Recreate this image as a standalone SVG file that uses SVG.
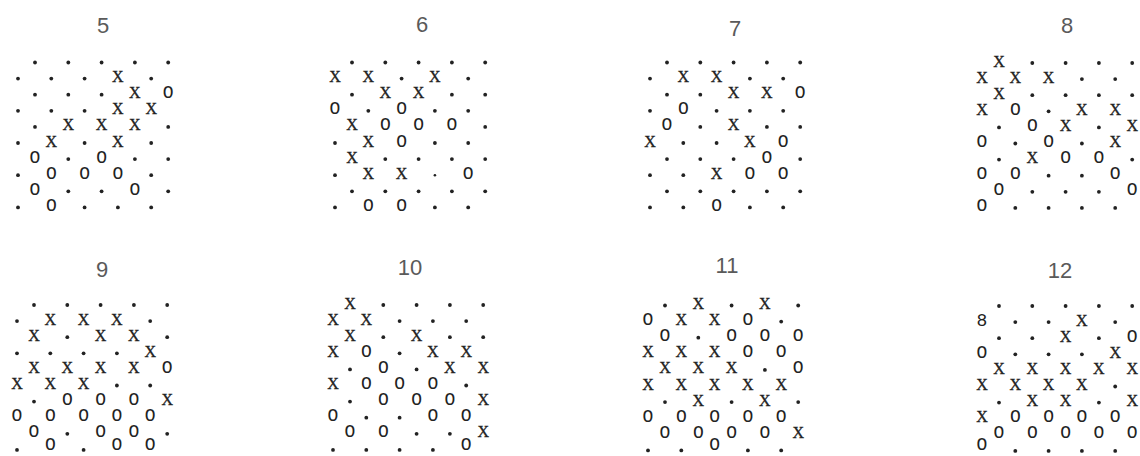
<svg xmlns="http://www.w3.org/2000/svg" width="1140" height="456" viewBox="0 0 1140 456">
<style>
.lbl{font-family:"Liberation Sans",Arial,sans-serif;font-size:22px;fill:#5a5a5a;text-anchor:middle}
.x{font-family:"Liberation Serif","Times New Roman",serif;font-size:16px;fill:#222;stroke:#222;stroke-width:0.35;text-anchor:middle}
.o{font-family:"Liberation Mono","Courier New",monospace;font-size:18px;fill:#222;text-anchor:middle}
circle{fill:#222}
</style>
<rect width="1140" height="456" fill="#fff"/>
<g id="grid-5">
<text class="lbl" x="103" y="33">5</text>
<g transform="translate(18,62.5)">
<circle cx="17" cy="0" r="1.9"/><circle cx="50.3" cy="0" r="1.9"/><circle cx="83.6" cy="0" r="1.9"/><circle cx="116.9" cy="0" r="1.9"/><circle cx="150.2" cy="0" r="1.9"/>
<circle cx="0" cy="16.1" r="1.9"/><circle cx="33.3" cy="16.1" r="1.9"/><circle cx="66.6" cy="16.1" r="1.9"/><text class="x" x="99.9" y="19.6">X</text><circle cx="133.2" cy="16.1" r="1.9"/>
<circle cx="17" cy="32.2" r="1.9"/><circle cx="50.3" cy="32.2" r="1.9"/><circle cx="83.6" cy="32.2" r="1.9"/><text class="x" x="116.9" y="35.7">X</text><text class="o" x="150.2" y="35.7">O</text>
<circle cx="0" cy="48.3" r="1.9"/><circle cx="33.3" cy="48.3" r="1.9"/><circle cx="66.6" cy="48.3" r="1.9"/><text class="x" x="99.9" y="51.8">X</text><text class="x" x="133.2" y="51.8">X</text>
<circle cx="17" cy="64.4" r="1.9"/><text class="x" x="50.3" y="67.9">X</text><text class="x" x="83.6" y="67.9">X</text><text class="x" x="116.9" y="67.9">X</text><circle cx="150.2" cy="64.4" r="1.9"/>
<circle cx="0" cy="80.5" r="1.9"/><text class="x" x="33.3" y="84">X</text><circle cx="66.6" cy="80.5" r="1.9"/><text class="x" x="99.9" y="84">X</text><circle cx="133.2" cy="80.5" r="1.9"/>
<text class="o" x="17" y="100.1">O</text><circle cx="50.3" cy="96.6" r="1.9"/><text class="o" x="83.6" y="100.1">O</text><circle cx="116.9" cy="96.6" r="1.9"/><circle cx="150.2" cy="96.6" r="1.9"/>
<circle cx="0" cy="112.7" r="1.9"/><text class="o" x="33.3" y="116.2">O</text><text class="o" x="66.6" y="116.2">O</text><text class="o" x="99.9" y="116.2">O</text><circle cx="133.2" cy="112.7" r="1.9"/>
<text class="o" x="17" y="132.3">O</text><circle cx="50.3" cy="128.8" r="1.9"/><circle cx="83.6" cy="128.8" r="1.9"/><text class="o" x="116.9" y="132.3">O</text><circle cx="150.2" cy="128.8" r="1.9"/>
<circle cx="0" cy="144.9" r="1.9"/><text class="o" x="33.3" y="148.4">O</text><circle cx="66.6" cy="144.9" r="1.9"/><circle cx="99.9" cy="144.9" r="1.9"/><circle cx="133.2" cy="144.9" r="1.9"/>
</g>
</g>
<g id="grid-6">
<text class="lbl" x="422" y="32">6</text>
<g transform="translate(335,62.5)">
<circle cx="17" cy="0" r="1.9"/><circle cx="50.3" cy="0" r="1.9"/><circle cx="83.6" cy="0" r="1.9"/><circle cx="116.9" cy="0" r="1.9"/><circle cx="150.2" cy="0" r="1.9"/>
<text class="x" x="0" y="19.6">X</text><text class="x" x="33.3" y="19.6">X</text><circle cx="66.6" cy="16.1" r="1.9"/><text class="x" x="99.9" y="19.6">X</text><circle cx="133.2" cy="16.1" r="1.9"/>
<circle cx="17" cy="32.2" r="1.9"/><text class="x" x="50.3" y="35.7">X</text><text class="x" x="83.6" y="35.7">X</text><circle cx="116.9" cy="32.2" r="1.9"/><circle cx="150.2" cy="32.2" r="1.9"/>
<text class="o" x="0" y="51.8">O</text><circle cx="33.3" cy="48.3" r="1.9"/><text class="o" x="66.6" y="51.8">O</text><circle cx="99.9" cy="48.3" r="1.9"/><circle cx="133.2" cy="48.3" r="1.9"/>
<text class="x" x="17" y="67.9">X</text><text class="o" x="50.3" y="67.9">O</text><text class="o" x="83.6" y="67.9">O</text><text class="o" x="116.9" y="67.9">O</text><circle cx="150.2" cy="64.4" r="1.9"/>
<circle cx="0" cy="80.5" r="1.9"/><text class="x" x="33.3" y="84">X</text><text class="o" x="66.6" y="84">O</text><circle cx="99.9" cy="80.5" r="1.9"/><circle cx="133.2" cy="80.5" r="1.9"/>
<text class="x" x="17" y="100.1">X</text><circle cx="50.3" cy="96.6" r="1.9"/><circle cx="83.6" cy="96.6" r="1.9"/><circle cx="116.9" cy="96.6" r="1.9"/><circle cx="150.2" cy="96.6" r="1.9"/>
<circle cx="0" cy="112.7" r="1.9"/><text class="x" x="33.3" y="116.2">X</text><text class="x" x="66.6" y="116.2">X</text><circle cx="99.9" cy="112.7" r="1.3"/><text class="o" x="133.2" y="116.2">O</text>
<circle cx="17" cy="128.8" r="1.9"/><circle cx="50.3" cy="128.8" r="1.9"/><circle cx="83.6" cy="128.8" r="1.9"/><circle cx="116.9" cy="128.8" r="1.9"/><circle cx="150.2" cy="128.8" r="1.9"/>
<circle cx="0" cy="144.9" r="1.9"/><text class="o" x="33.3" y="148.4">O</text><text class="o" x="66.6" y="148.4">O</text><circle cx="99.9" cy="144.9" r="1.9"/><circle cx="133.2" cy="144.9" r="1.9"/>
</g>
</g>
<g id="grid-7">
<text class="lbl" x="735" y="36">7</text>
<g transform="translate(650,62.5)">
<circle cx="17" cy="0" r="1.9"/><circle cx="50.3" cy="0" r="1.9"/><circle cx="83.6" cy="0" r="1.9"/><circle cx="116.9" cy="0" r="1.9"/><circle cx="150.2" cy="0" r="1.9"/>
<circle cx="0" cy="16.1" r="1.9"/><text class="x" x="33.3" y="19.6">X</text><text class="x" x="66.6" y="19.6">X</text><circle cx="99.9" cy="16.1" r="1.9"/><circle cx="133.2" cy="16.1" r="1.9"/>
<circle cx="17" cy="32.2" r="1.9"/><circle cx="50.3" cy="32.2" r="1.9"/><text class="x" x="83.6" y="35.7">X</text><text class="x" x="116.9" y="35.7">X</text><text class="o" x="150.2" y="35.7">O</text>
<circle cx="0" cy="48.3" r="1.9"/><text class="o" x="33.3" y="51.8">O</text><circle cx="66.6" cy="48.3" r="1.9"/><circle cx="99.9" cy="48.3" r="1.9"/><circle cx="133.2" cy="48.3" r="1.9"/>
<text class="o" x="17" y="67.9">O</text><circle cx="50.3" cy="64.4" r="1.9"/><text class="x" x="83.6" y="67.9">X</text><circle cx="116.9" cy="64.4" r="1.9"/><circle cx="150.2" cy="64.4" r="1.9"/>
<text class="x" x="0" y="84">X</text><circle cx="33.3" cy="80.5" r="1.9"/><circle cx="66.6" cy="80.5" r="1.9"/><text class="x" x="99.9" y="84">X</text><text class="o" x="133.2" y="84">O</text>
<circle cx="17" cy="96.6" r="1.9"/><circle cx="50.3" cy="96.6" r="1.9"/><circle cx="83.6" cy="96.6" r="1.9"/><text class="o" x="116.9" y="100.1">O</text><circle cx="150.2" cy="96.6" r="1.9"/>
<circle cx="0" cy="112.7" r="1.9"/><circle cx="33.3" cy="112.7" r="1.9"/><text class="x" x="66.6" y="116.2">X</text><text class="o" x="99.9" y="116.2">O</text><text class="o" x="133.2" y="116.2">O</text>
<circle cx="17" cy="128.8" r="1.9"/><circle cx="50.3" cy="128.8" r="1.9"/><circle cx="83.6" cy="128.8" r="1.9"/><circle cx="116.9" cy="128.8" r="1.9"/><circle cx="150.2" cy="128.8" r="1.9"/>
<circle cx="0" cy="144.9" r="1.9"/><circle cx="33.3" cy="144.9" r="1.9"/><text class="o" x="66.6" y="148.4">O</text><circle cx="99.9" cy="144.9" r="1.9"/><circle cx="133.2" cy="144.9" r="1.9"/>
</g>
</g>
<g id="grid-8">
<text class="lbl" x="1067" y="33">8</text>
<g transform="translate(982,63)">
<text class="x" x="17" y="3.5">X</text><circle cx="50.3" cy="0" r="1.9"/><circle cx="83.6" cy="0" r="1.9"/><circle cx="116.9" cy="0" r="1.9"/><circle cx="150.2" cy="0" r="1.9"/>
<text class="x" x="0" y="19.6">X</text><text class="x" x="33.3" y="19.6">X</text><text class="x" x="66.6" y="19.6">X</text><circle cx="99.9" cy="16.1" r="1.9"/><circle cx="133.2" cy="16.1" r="1.9"/>
<text class="x" x="17" y="35.7">X</text><circle cx="50.3" cy="32.2" r="1.9"/><circle cx="83.6" cy="32.2" r="1.9"/><circle cx="116.9" cy="32.2" r="1.9"/><circle cx="150.2" cy="32.2" r="1.9"/>
<text class="x" x="0" y="51.8">X</text><text class="o" x="33.3" y="51.8">O</text><circle cx="66.6" cy="48.3" r="1.9"/><text class="x" x="99.9" y="51.8">X</text><text class="x" x="133.2" y="51.8">X</text>
<circle cx="17" cy="64.4" r="1.9"/><text class="o" x="50.3" y="67.9">O</text><text class="x" x="83.6" y="67.9">X</text><circle cx="116.9" cy="64.4" r="1.9"/><text class="x" x="150.2" y="67.9">X</text>
<text class="o" x="0" y="84">O</text><circle cx="33.3" cy="80.5" r="1.9"/><text class="o" x="66.6" y="84">O</text><circle cx="99.9" cy="80.5" r="1.9"/><text class="x" x="133.2" y="84">X</text>
<circle cx="17" cy="96.6" r="1.9"/><text class="x" x="50.3" y="100.1">X</text><text class="o" x="83.6" y="100.1">O</text><text class="o" x="116.9" y="100.1">O</text><circle cx="150.2" cy="96.6" r="1.9"/>
<text class="o" x="0" y="116.2">O</text><text class="o" x="33.3" y="116.2">O</text><circle cx="66.6" cy="112.7" r="1.9"/><circle cx="99.9" cy="112.7" r="1.9"/><text class="o" x="133.2" y="116.2">O</text>
<text class="o" x="17" y="132.3">O</text><circle cx="50.3" cy="128.8" r="1.9"/><circle cx="83.6" cy="128.8" r="1.9"/><circle cx="116.9" cy="128.8" r="1.9"/><text class="o" x="150.2" y="132.3">O</text>
<text class="o" x="0" y="148.4">O</text><circle cx="33.3" cy="144.9" r="1.9"/><circle cx="66.6" cy="144.9" r="1.9"/><circle cx="99.9" cy="144.9" r="1.9"/><circle cx="133.2" cy="144.9" r="1.9"/>
</g>
</g>
<g id="grid-9">
<text class="lbl" x="102" y="277">9</text>
<g transform="translate(17,305)">
<circle cx="17" cy="0" r="1.9"/><circle cx="50.3" cy="0" r="1.9"/><circle cx="83.6" cy="0" r="1.9"/><circle cx="116.9" cy="0" r="1.9"/><circle cx="150.2" cy="0" r="1.9"/>
<circle cx="0" cy="16.1" r="1.9"/><text class="x" x="33.3" y="19.6">X</text><text class="x" x="66.6" y="19.6">X</text><text class="x" x="99.9" y="19.6">X</text><circle cx="133.2" cy="16.1" r="1.9"/>
<text class="x" x="17" y="35.7">X</text><circle cx="50.3" cy="32.2" r="1.9"/><text class="x" x="83.6" y="35.7">X</text><text class="x" x="116.9" y="35.7">X</text><circle cx="150.2" cy="32.2" r="1.9"/>
<circle cx="0" cy="48.3" r="1.9"/><circle cx="33.3" cy="48.3" r="1.9"/><circle cx="66.6" cy="48.3" r="1.9"/><circle cx="99.9" cy="48.3" r="1.9"/><text class="x" x="133.2" y="51.8">X</text>
<text class="x" x="17" y="67.9">X</text><text class="x" x="50.3" y="67.9">X</text><text class="x" x="83.6" y="67.9">X</text><text class="x" x="116.9" y="67.9">X</text><text class="o" x="150.2" y="67.9">O</text>
<text class="x" x="0" y="84">X</text><text class="x" x="33.3" y="84">X</text><text class="x" x="66.6" y="84">X</text><circle cx="99.9" cy="80.5" r="1.9"/><circle cx="133.2" cy="80.5" r="1.9"/>
<circle cx="17" cy="96.6" r="1.9"/><text class="o" x="50.3" y="100.1">O</text><text class="o" x="83.6" y="100.1">O</text><text class="o" x="116.9" y="100.1">O</text><text class="x" x="150.2" y="100.1">X</text>
<text class="o" x="0" y="116.2">O</text><text class="o" x="33.3" y="116.2">O</text><text class="o" x="66.6" y="116.2">O</text><text class="o" x="99.9" y="116.2">O</text><text class="o" x="133.2" y="116.2">O</text>
<text class="o" x="17" y="132.3">O</text><circle cx="50.3" cy="128.8" r="1.9"/><text class="o" x="83.6" y="132.3">O</text><text class="o" x="116.9" y="132.3">O</text><circle cx="150.2" cy="128.8" r="1.9"/>
<circle cx="0" cy="144.9" r="1.9"/><text class="o" x="33.3" y="145.4">O</text><circle cx="66.6" cy="144.9" r="1.9"/><text class="o" x="99.9" y="145.4">O</text><text class="o" x="133.2" y="145.4">O</text>
</g>
</g>
<g id="grid-10">
<text class="lbl" x="410" y="275">10</text>
<g transform="translate(333,305)">
<text class="x" x="17" y="3.5">X</text><circle cx="50.3" cy="0" r="1.9"/><circle cx="83.6" cy="0" r="1.9"/><circle cx="116.9" cy="0" r="1.9"/><circle cx="150.2" cy="0" r="1.9"/>
<text class="x" x="0" y="19.6">X</text><text class="x" x="33.3" y="19.6">X</text><circle cx="66.6" cy="16.1" r="1.9"/><circle cx="99.9" cy="16.1" r="1.9"/><circle cx="133.2" cy="16.1" r="1.9"/>
<text class="x" x="17" y="35.7">X</text><circle cx="50.3" cy="32.2" r="1.9"/><text class="x" x="83.6" y="35.7">X</text><circle cx="116.9" cy="32.2" r="1.9"/><circle cx="150.2" cy="32.2" r="1.9"/>
<text class="x" x="0" y="51.8">X</text><text class="o" x="33.3" y="51.8">O</text><circle cx="66.6" cy="48.3" r="1.9"/><text class="x" x="99.9" y="51.8">X</text><text class="x" x="133.2" y="51.8">X</text>
<circle cx="17" cy="64.4" r="1.9"/><text class="o" x="50.3" y="67.9">O</text><circle cx="83.6" cy="64.4" r="1.9"/><text class="x" x="116.9" y="67.9">X</text><text class="x" x="150.2" y="67.9">X</text>
<text class="x" x="0" y="84">X</text><text class="o" x="33.3" y="84">O</text><text class="o" x="66.6" y="84">O</text><text class="o" x="99.9" y="84">O</text><circle cx="133.2" cy="80.5" r="1.9"/>
<circle cx="17" cy="96.6" r="1.9"/><text class="o" x="50.3" y="100.1">O</text><text class="o" x="83.6" y="100.1">O</text><text class="o" x="116.9" y="100.1">O</text><text class="x" x="150.2" y="100.1">X</text>
<text class="o" x="0" y="116.2">O</text><circle cx="33.3" cy="112.7" r="1.9"/><circle cx="66.6" cy="112.7" r="1.9"/><text class="o" x="99.9" y="116.2">O</text><text class="o" x="133.2" y="116.2">O</text>
<text class="o" x="17" y="132.3">O</text><text class="o" x="50.3" y="132.3">O</text><circle cx="83.6" cy="128.8" r="1.9"/><circle cx="116.9" cy="128.8" r="1.9"/><text class="x" x="150.2" y="132.3">X</text>
<circle cx="0" cy="144.9" r="1.9"/><circle cx="33.3" cy="144.9" r="1.9"/><circle cx="66.6" cy="144.9" r="1.9"/><circle cx="99.9" cy="144.9" r="1.9"/><text class="o" x="133.2" y="145.4">O</text>
</g>
</g>
<g id="grid-11">
<text class="lbl" x="727" y="273">11</text>
<g transform="translate(648,305.5)">
<circle cx="17" cy="0" r="1.9"/><text class="x" x="50.3" y="3.5">X</text><circle cx="83.6" cy="0" r="1.9"/><text class="x" x="116.9" y="3.5">X</text><circle cx="150.2" cy="0" r="1.9"/>
<text class="o" x="0" y="19.6">O</text><text class="x" x="33.3" y="19.6">X</text><text class="x" x="66.6" y="19.6">X</text><text class="o" x="99.9" y="19.6">O</text><circle cx="133.2" cy="16.1" r="1.9"/>
<text class="o" x="17" y="35.7">O</text><circle cx="50.3" cy="32.2" r="1.9"/><text class="o" x="83.6" y="35.7">O</text><text class="o" x="116.9" y="35.7">O</text><text class="o" x="150.2" y="35.7">O</text>
<text class="x" x="0" y="51.8">X</text><text class="x" x="33.3" y="51.8">X</text><text class="x" x="66.6" y="51.8">X</text><text class="o" x="99.9" y="51.8">O</text><text class="o" x="133.2" y="51.8">O</text>
<text class="x" x="17" y="67.9">X</text><text class="x" x="50.3" y="67.9">X</text><text class="x" x="83.6" y="67.9">X</text><circle cx="116.9" cy="64.4" r="1.9"/><text class="o" x="150.2" y="67.9">O</text>
<text class="x" x="0" y="84">X</text><text class="x" x="33.3" y="84">X</text><text class="x" x="66.6" y="84">X</text><text class="x" x="99.9" y="84">X</text><text class="x" x="133.2" y="84">X</text>
<circle cx="17" cy="96.6" r="1.9"/><text class="x" x="50.3" y="100.1">X</text><circle cx="83.6" cy="96.6" r="1.9"/><text class="x" x="116.9" y="100.1">X</text><circle cx="150.2" cy="96.6" r="1.9"/>
<text class="o" x="0" y="116.2">O</text><text class="o" x="33.3" y="116.2">O</text><text class="o" x="66.6" y="116.2">O</text><text class="o" x="99.9" y="116.2">O</text><text class="o" x="133.2" y="116.2">O</text>
<text class="o" x="17" y="132.3">O</text><text class="o" x="50.3" y="132.3">O</text><text class="o" x="83.6" y="132.3">O</text><text class="o" x="116.9" y="132.3">O</text><text class="x" x="150.2" y="132.3">X</text>
<circle cx="0" cy="144.9" r="1.9"/><circle cx="33.3" cy="144.9" r="1.9"/><text class="o" x="66.6" y="144.9">O</text><circle cx="99.9" cy="144.9" r="1.9"/><circle cx="133.2" cy="144.9" r="1.9"/>
</g>
</g>
<g id="grid-12">
<text class="lbl" x="1060" y="278">12</text>
<g transform="translate(982,306)">
<circle cx="17" cy="0" r="1.9"/><circle cx="50.3" cy="0" r="1.9"/><circle cx="83.6" cy="0" r="1.9"/><circle cx="116.9" cy="0" r="1.9"/><circle cx="150.2" cy="0" r="1.9"/>
<text class="o" x="0" y="19.6">8</text><circle cx="33.3" cy="16.1" r="1.9"/><circle cx="66.6" cy="16.1" r="1.9"/><text class="x" x="99.9" y="19.6">X</text><circle cx="133.2" cy="16.1" r="1.9"/>
<circle cx="17" cy="32.2" r="1.9"/><circle cx="50.3" cy="32.2" r="1.9"/><text class="x" x="83.6" y="35.7">X</text><circle cx="116.9" cy="32.2" r="1.9"/><text class="o" x="150.2" y="35.7">O</text>
<text class="o" x="0" y="51.8">O</text><circle cx="33.3" cy="48.3" r="1.9"/><circle cx="66.6" cy="48.3" r="1.9"/><circle cx="99.9" cy="48.3" r="1.9"/><text class="x" x="133.2" y="51.8">X</text>
<text class="x" x="17" y="67.9">X</text><text class="x" x="50.3" y="67.9">X</text><text class="x" x="83.6" y="67.9">X</text><text class="x" x="116.9" y="67.9">X</text><text class="x" x="150.2" y="67.9">X</text>
<text class="x" x="0" y="84">X</text><text class="x" x="33.3" y="84">X</text><text class="x" x="66.6" y="84">X</text><text class="x" x="99.9" y="84">X</text><circle cx="133.2" cy="80.5" r="1.9"/>
<circle cx="17" cy="96.6" r="1.9"/><text class="x" x="50.3" y="100.1">X</text><text class="x" x="83.6" y="100.1">X</text><circle cx="116.9" cy="96.6" r="1.9"/><text class="x" x="150.2" y="100.1">X</text>
<text class="x" x="0" y="116.2">X</text><text class="o" x="33.3" y="116.2">O</text><text class="o" x="66.6" y="116.2">O</text><text class="o" x="99.9" y="116.2">O</text><text class="o" x="133.2" y="116.2">O</text>
<text class="o" x="17" y="132.3">O</text><text class="o" x="50.3" y="132.3">O</text><text class="o" x="83.6" y="132.3">O</text><text class="o" x="116.9" y="132.3">O</text><text class="o" x="150.2" y="132.3">O</text>
<text class="o" x="0" y="144.2">O</text><circle cx="33.3" cy="144.9" r="1.9"/><circle cx="66.6" cy="144.9" r="1.9"/><circle cx="99.9" cy="144.9" r="1.9"/><circle cx="133.2" cy="144.9" r="1.9"/>
</g>
</g>
<g id="connectors"/>
</svg>
